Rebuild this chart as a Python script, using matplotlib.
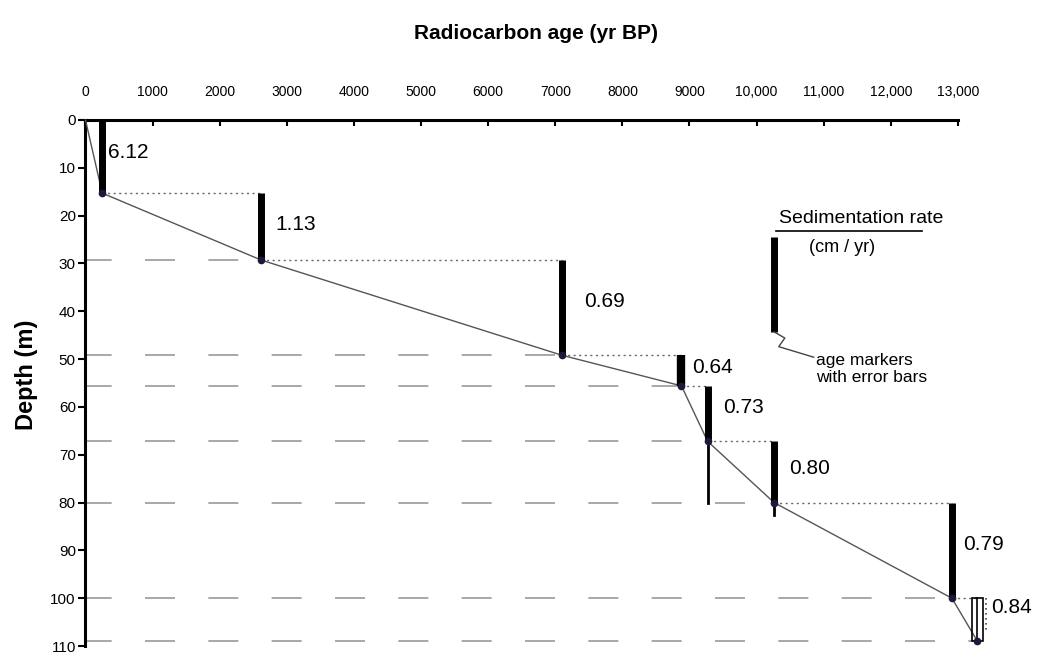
import matplotlib
matplotlib.use("Agg")
import matplotlib.pyplot as plt
from matplotlib.patches import Rectangle
from matplotlib.ticker import FixedLocator

# ---- data ----
ages = [0, 250, 2620, 7100, 8880, 9270, 10260, 12910, 13290]
depths = [0, 15.3, 29.3, 49.2, 55.6, 67.2, 80.0, 100.0, 109.0]
rate_labels = ["6.12", "1.13", "0.69", "0.64", "0.73", "0.80", "0.79", "0.84"]
err_extra = [0, 0, 0, 0, 12.8, 2.6, 0, 0]
xticks = [0, 1000, 2000, 3000, 4000, 5000, 6000, 7000, 8000, 9000, 10000, 11000, 12000, 13000]
xticklabels = ["0", "1000", "2000", "3000", "4000", "5000", "6000", "7000", "8000",
               "9000", "10,000", "11,000", "12,000", "13,000"]
yticks = [0, 10, 20, 30, 40, 50, 60, 70, 80, 90, 100, 110]

plt.rcParams['font.family'] = ['Liberation Sans', 'DejaVu Sans']

fig = plt.figure(figsize=(10.45, 6.56), dpi=100)
ax = fig.add_axes([0.0818, 0.0152, 0.8349, 0.8019])
ax.set_xlim(0, 13000)
ax.set_ylim(110, 0)

# long-dash gray depth lines
for a, d in zip(ages[2:], depths[2:]):
    ax.plot([0, a], [d, d], color="#9a9a9a", lw=1.2, ls=(2, (18, 20)), zorder=1, clip_on=False)

# dotted connectors from each point to next bar
for i in range(1, len(ages) - 1):
    ax.plot([ages[i], ages[i + 1]], [depths[i], depths[i]], color="#666666", lw=1.0,
            ls=(0, (1.5, 2.5)), zorder=2, clip_on=False)

# age-depth line
ax.plot(ages, depths, color="#555555", lw=1.0, zorder=3, clip_on=False)

# sedimentation-rate bars
for i in range(len(rate_labels)):
    x = ages[i + 1]
    d0, d1 = depths[i], depths[i + 1]
    if i == len(rate_labels) - 1:
        w = 170
        ax.add_patch(Rectangle((x - w / 2, d0), w, d1 - d0, fill=False, ec="black",
                               lw=1.2, zorder=4, clip_on=False))
        ax.plot([x, x], [d0, d1], color="black", lw=1.2, zorder=4, clip_on=False)
        ax.plot([x + w / 2 + 40, x + w / 2 + 40], [d0, d1 - 2], color="#444444", lw=1.2,
                ls=(0, (1, 2)), zorder=4, clip_on=False)
    else:
        ax.plot([x, x], [d0, d1], color="black", lw=5 if i != 3 else 6,
                solid_capstyle="butt", zorder=4, clip_on=False)
        if err_extra[i] > 0:
            ax.plot([x, x], [d1, d1 + err_extra[i]], color="black", lw=2, zorder=4,
                    clip_on=False)

# age markers
ax.plot(ages[1:], depths[1:], "o", color="#1a1a3a", ms=4.5, zorder=5, clip_on=False)

# rate labels
label_pos = [(330, 6.7), (2830, 21.8), (7430, 38.0), (9040, 51.7), (9500, 60.2),
             (10480, 72.8), (13080, 88.8), (13490, 102.0)]
for (lx, ly), t in zip(label_pos, rate_labels):
    ax.text(lx, ly, t, fontsize=15, va="center", ha="left", clip_on=False)

# legend
ax.plot([10260, 10260], [24.5, 44.3], color="black", lw=5, solid_capstyle="butt",
        clip_on=False)
ax.plot([10260, 10420, 10330, 10850], [44.3, 45.6, 47.4, 49.6], color="#444444", lw=1.0,
        clip_on=False)
ax.text(10330, 20.6, "Sedimentation rate", fontsize=14, ha="left", va="center")
ax.plot([10290, 12470], [23.2, 23.2], color="black", lw=1.2, clip_on=False)
ax.text(11270, 26.6, "(cm / yr)", fontsize=13, ha="center", va="center")
ax.text(10880, 52.0, "age markers\nwith error bars", fontsize=12.5, ha="left", va="center",
        linespacing=1.15)

# axes styling
for s in ["bottom", "right"]:
    ax.spines[s].set_visible(False)
ax.spines["top"].set_linewidth(2.2)
ax.spines["left"].set_linewidth(2.2)
ax.xaxis.tick_top()
ax.xaxis.set_major_locator(FixedLocator(xticks))
ax.set_xticklabels(xticklabels, fontsize=10)
ax.yaxis.set_major_locator(FixedLocator(yticks))
ax.set_yticklabels([str(v) for v in yticks], fontsize=11)
ax.tick_params(axis="x", direction="in", length=4, width=1.5, pad=15)
ax.tick_params(axis="y", direction="out", length=5, width=1.5, pad=2)

fig.text(0.513, 0.949, "Radiocarbon age (yr BP)", fontsize=15, fontweight="bold",
         ha="center", va="center")
fig.text(0.025, 0.428, "Depth (m)", fontsize=17, fontweight="bold", rotation=90,
         ha="center", va="center")

fig.savefig("out.png", dpi=100)
